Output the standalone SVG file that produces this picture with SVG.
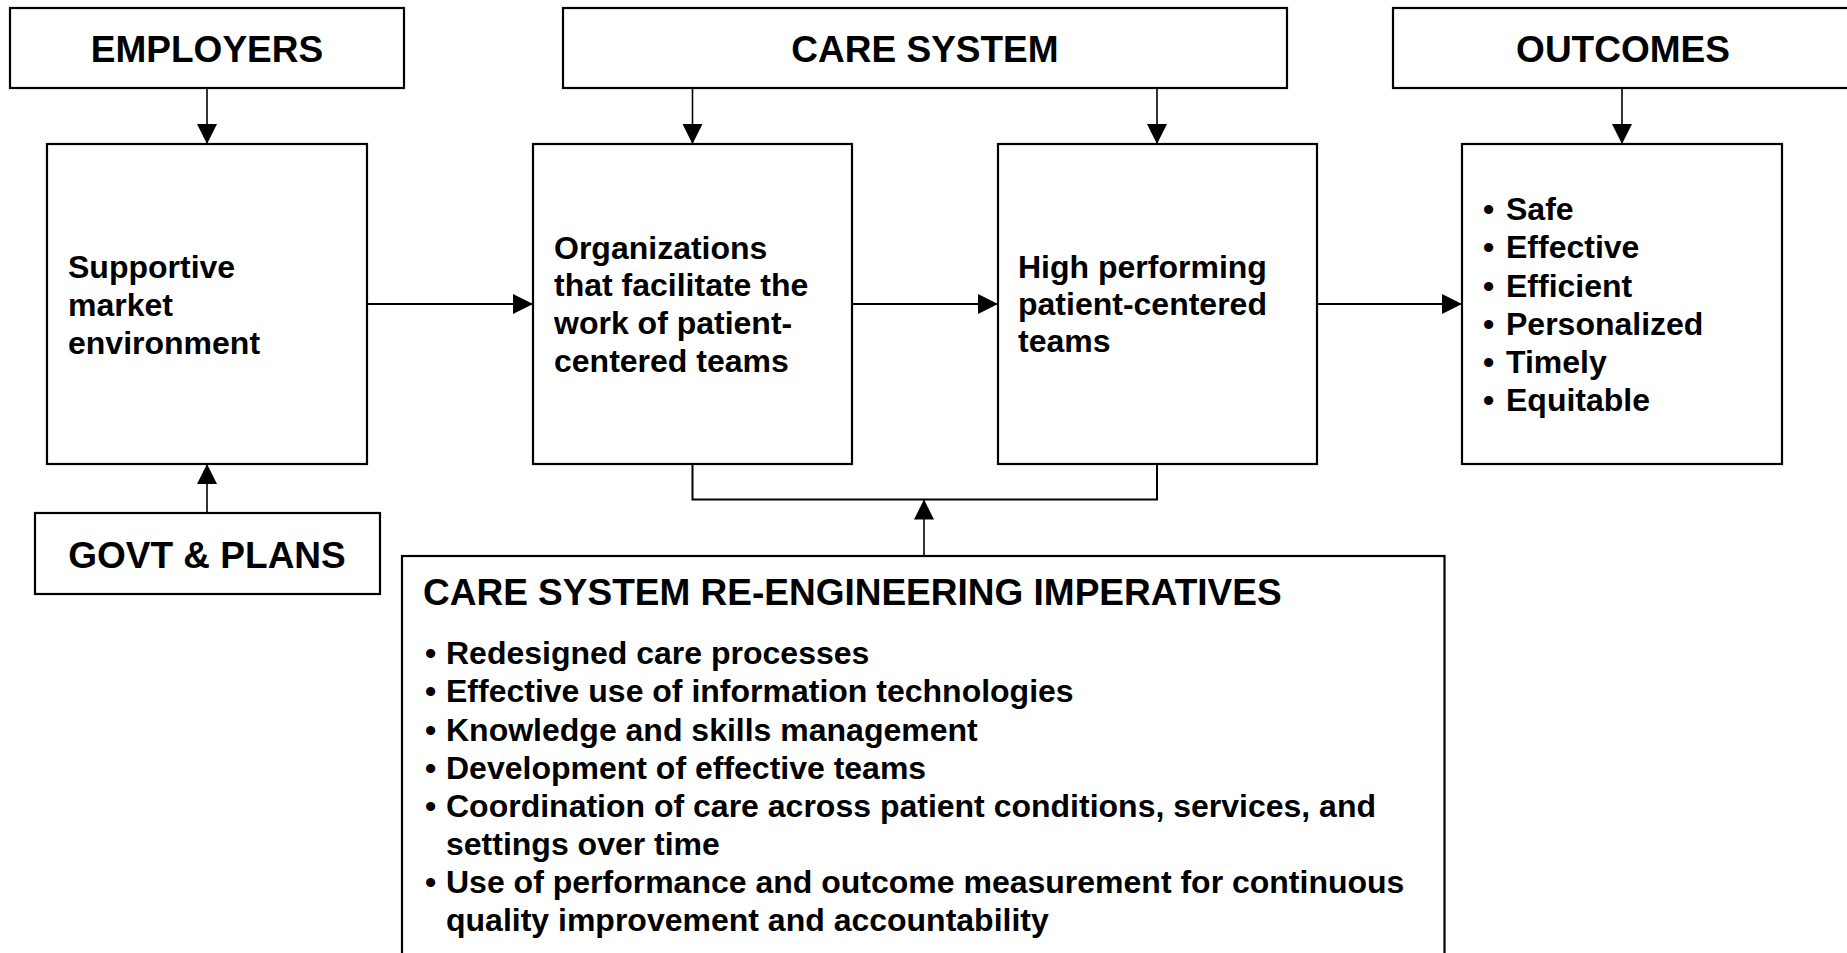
<svg xmlns="http://www.w3.org/2000/svg" width="1847" height="953" viewBox="0 0 1847 953">
  <style>
    .box { fill: #ffffff; stroke: #000000; stroke-width: 2.2; }
    .lbl { font-family: "Liberation Sans", Arial, Helvetica, sans-serif; font-weight: bold; fill: #000000; }
    .head { font-size: 37px; }
    .body { font-size: 32px; }
    .mid { text-anchor: middle; }
    .link { fill: none; stroke: #000000; stroke-width: 2; }
    .drop { fill: none; stroke: #000000; stroke-width: 1.6; }
  </style>
  <defs>
    <marker id="arrow" markerUnits="userSpaceOnUse" markerWidth="20" markerHeight="20" refX="20" refY="10" orient="auto">
      <path d="M0,0 L20,10 L0,20 z" fill="#000000"/>
    </marker>
  </defs>

  <rect x="0" y="0" width="1847" height="953" fill="#ffffff"/>

  <!-- connectors -->
  <g id="connectors">
    <line class="drop" x1="207" y1="88" x2="207" y2="144" marker-end="url(#arrow)"/>
    <line class="drop" x1="207" y1="513" x2="207" y2="464" marker-end="url(#arrow)"/>
    <line class="drop" x1="692.5" y1="88" x2="692.5" y2="144" marker-end="url(#arrow)"/>
    <line class="drop" x1="1157" y1="88" x2="1157" y2="144" marker-end="url(#arrow)"/>
    <line class="drop" x1="1622" y1="88" x2="1622" y2="144" marker-end="url(#arrow)"/>
    <line class="link" x1="367" y1="304" x2="533" y2="304" marker-end="url(#arrow)"/>
    <line class="link" x1="852" y1="304" x2="998" y2="304" marker-end="url(#arrow)"/>
    <line class="link" x1="1317" y1="304" x2="1462" y2="304" marker-end="url(#arrow)"/>
    <path class="link" d="M692.5,464 V499.5 H1157 V464"/>
    <line class="drop" x1="924" y1="556" x2="924" y2="499.5" marker-end="url(#arrow)"/>
  </g>

  <!-- top row headers -->
  <g id="employers">
    <rect class="box" x="10" y="8" width="394" height="80"/>
    <text class="lbl head mid" x="207" y="62">EMPLOYERS</text>
  </g>
  <g id="care-system">
    <rect class="box" x="563" y="8" width="724" height="80"/>
    <text class="lbl head mid" x="925" y="62">CARE SYSTEM</text>
  </g>
  <g id="outcomes">
    <rect class="box" x="1393" y="8" width="470" height="80"/>
    <text class="lbl head mid" x="1623" y="62">OUTCOMES</text>
  </g>

  <!-- main row -->
  <g id="market">
    <rect class="box" x="47" y="144" width="320" height="320"/>
    <text class="lbl body" x="68" y="278">Supportive</text>
    <text class="lbl body" x="68" y="316">market</text>
    <text class="lbl body" x="68" y="354">environment</text>
  </g>
  <g id="organizations">
    <rect class="box" x="533" y="144" width="319" height="320"/>
    <text class="lbl body" x="554" y="258.5">Organizations</text>
    <text class="lbl body" x="554" y="296">that facilitate the</text>
    <text class="lbl body" x="554" y="334">work of patient-</text>
    <text class="lbl body" x="554" y="371.5">centered teams</text>
  </g>
  <g id="teams">
    <rect class="box" x="998" y="144" width="319" height="320"/>
    <text class="lbl body" x="1018" y="278">High performing</text>
    <text class="lbl body" x="1018" y="315">patient-centered</text>
    <text class="lbl body" x="1018" y="352">teams</text>
  </g>
  <g id="results">
    <rect class="box" x="1462" y="144" width="320" height="320"/>
    <g class="lbl body">
      <text x="1483" y="220">•</text><text x="1506" y="220">Safe</text>
      <text x="1483" y="258">•</text><text x="1506" y="258">Effective</text>
      <text x="1483" y="296.5">•</text><text x="1506" y="296.5">Efficient</text>
      <text x="1483" y="334.5">•</text><text x="1506" y="334.5">Personalized</text>
      <text x="1483" y="372.5">•</text><text x="1506" y="372.5">Timely</text>
      <text x="1483" y="410.5">•</text><text x="1506" y="410.5">Equitable</text>
    </g>
  </g>

  <!-- lower row -->
  <g id="govt-plans">
    <rect class="box" x="35" y="513" width="345" height="81"/>
    <text class="lbl head mid" x="207" y="568">GOVT &amp; PLANS</text>
  </g>
  <g id="imperatives">
    <rect class="box" x="402" y="556" width="1042.5" height="420"/>
    <text class="lbl head" x="423" y="605">CARE SYSTEM RE-ENGINEERING IMPERATIVES</text>
    <g class="lbl body">
      <text x="425" y="664">•</text><text x="446" y="664">Redesigned care processes</text>
      <text x="425" y="702">•</text><text x="446" y="702">Effective use of information technologies</text>
      <text x="425" y="740.5">•</text><text x="446" y="740.5">Knowledge and skills management</text>
      <text x="425" y="778.5">•</text><text x="446" y="778.5">Development of effective teams</text>
      <text x="425" y="817">•</text><text x="446" y="817">Coordination of care across patient conditions, services, and</text>
      <text x="446" y="855">settings over time</text>
      <text x="425" y="893">•</text><text x="446" y="893">Use of performance and outcome measurement for continuous</text>
      <text x="446" y="931">quality improvement and accountability</text>
    </g>
  </g>
</svg>
